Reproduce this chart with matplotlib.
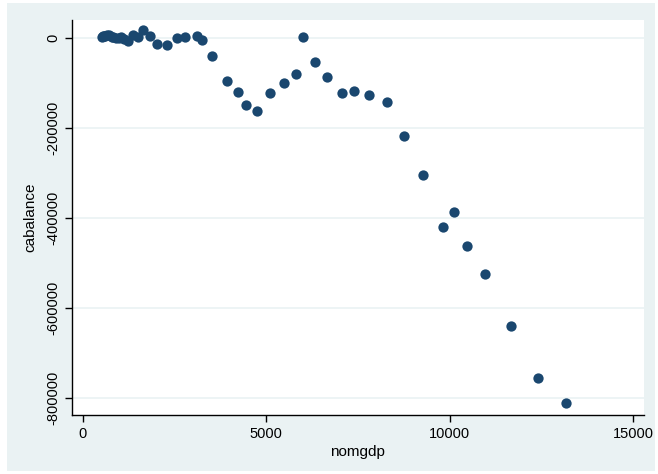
import matplotlib.pyplot as plt
from matplotlib.patches import Rectangle

# Data
nomgdp = [
    526, 544, 585, 617, 664, 719, 788, 832, 910, 985,
    1038, 1127, 1238, 1383, 1500, 1638, 1825, 2031, 2295, 2563,
    2790, 3128, 3255, 3536, 3933, 4220, 4463, 4740, 5104, 5484,
    5803, 5996, 6338, 6657, 7072, 7398, 7817, 8304, 8747, 9268,
    9817, 10128, 10470, 10960, 11685, 12421, 13178,
]
cabalance = [
    2800, 3800, 3400, 4400, 6800, 5400, 3000, 2600, 600, 400,
    2300, -1400, -5800, 7100, 2000, 18000, 4300, -14300, -15100, -300,
    2300, 5000, -5500, -40000, -96000, -120000, -149000, -162000, -123000, -101000,
    -81000, 2000, -53000, -87000, -123000, -117000, -126000, -143000, -218000, -304000,
    -420000, -387000, -461000, -524000, -640000, -756000, -811000,
]

x_ticks = [0, 5000, 10000, 15000]
y_ticks = [0, -200000, -400000, -600000, -800000]

BG = "#EAF2F3"
MARKER = "#1A476F"

plt.rcParams["font.family"] = ["Liberation Sans", "DejaVu Sans"]

fig = plt.figure(figsize=(6.58, 4.74), dpi=100, facecolor="white")

# Light outer panel with a thin white margin
fig.patches.append(Rectangle((7 / 658, 3 / 474), 648 / 658, 468 / 474,
                             transform=fig.transFigure, facecolor=BG,
                             edgecolor="none", zorder=-10))

ax = fig.add_axes([0.109, 0.1245, 0.869, 0.8335])
ax.set_facecolor("white")

# Grid lines at the y ticks
for yv in y_ticks:
    ax.axhline(yv, color=BG, linewidth=1.2, zorder=0)

ax.scatter(nomgdp, cabalance, s=55, color=MARKER, zorder=3, linewidths=0)

ax.set_xlim(-300, 15290)
ax.set_ylim(-837000, 40000)
ax.set_xticks(x_ticks)
ax.set_yticks(y_ticks)
ax.set_yticklabels([str(v) for v in y_ticks], rotation=90, va="center")

ax.spines["top"].set_visible(False)
ax.spines["right"].set_visible(False)
ax.spines["left"].set_linewidth(1.0)
ax.spines["bottom"].set_linewidth(1.0)
ax.tick_params(direction="out", length=5, width=1, labelsize=10.5)

ax.set_xlabel("nomgdp", fontsize=11, labelpad=3)
ax.set_ylabel("cabalance", fontsize=11, labelpad=6)

plt.savefig("out.png", dpi=100, facecolor="white")
